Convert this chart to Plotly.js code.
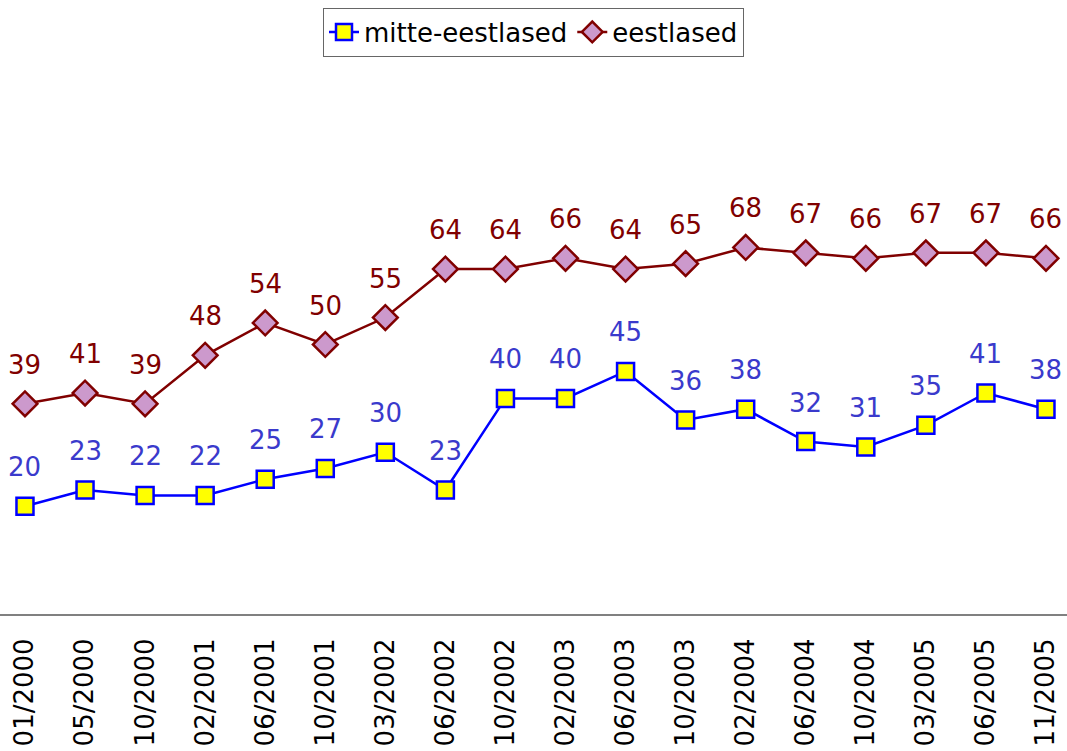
<!DOCTYPE html>
<html>
<head>
<meta charset="utf-8">
<script src="https://cdn.plot.ly/plotly-3.0.1.min.js"></script>
<style>html,body{margin:0;padding:0;background:#fff;}#chart{width:1067px;height:751px;}</style>
</head>
<body>
<div id="chart"></div>
<script>
var categories = ["01/2000","05/2000","10/2000","02/2001","06/2001","10/2001","03/2002","06/2002","10/2002","02/2003","06/2003","10/2003","02/2004","06/2004","10/2004","03/2005","06/2005","11/2005"];
var mitteEestlased = [20,23,22,22,25,27,30,23,40,40,45,36,38,32,31,35,41,38];
var eestlased = [39,41,39,48,54,50,55,64,64,66,64,65,68,67,66,67,67,66];
var seriesNames = ["mitte-eestlased","eestlased"];

var FONT = "DejaVu Sans, Verdana, sans-serif";
var xs = categories.map(function(c,i){return i;});

var traces = [
  {
    x: xs, y: mitteEestlased, name: seriesNames[0], type: "scatter", mode: "lines+markers",
    line: {color: "#0000ff", width: 2.5},
    marker: {symbol: "square", size: 17, color: "#ffff00", line: {color: "#0000ff", width: 2.5}}
  },
  {
    x: xs, y: eestlased, name: seriesNames[1], type: "scatter", mode: "lines+markers",
    line: {color: "#800000", width: 2.5},
    marker: {symbol: "diamond", size: 19, color: "#cc99cc", line: {color: "#800000", width: 2.5}}
  }
];

var annotations = [];
mitteEestlased.forEach(function(v,i){
  annotations.push({x: xs[i], y: v, text: String(v), showarrow: false, yshift: 39, yanchor: "middle",
    font: {family: FONT, size: 26, color: "#3a3acc"}});
});
eestlased.forEach(function(v,i){
  annotations.push({x: xs[i], y: v, text: String(v), showarrow: false, yshift: 39, yanchor: "middle",
    font: {family: FONT, size: 26, color: "#800000"}});
});

var layout = {
  width: 1067, height: 751,
  margin: {l: 0, r: 0, t: 75, b: 137, pad: 0},
  paper_bgcolor: "#ffffff", plot_bgcolor: "#ffffff",
  font: {family: FONT, size: 26, color: "#000"},
  showlegend: true,
  legend: {orientation: "h", x: 0.5, xanchor: "center", yref: "container", y: 0.99, yanchor: "top",
    bordercolor: "#666666", borderwidth: 1, font: {family: FONT, size: 26, color: "#000"}, bgcolor: "#fff",
    itemwidth: 30, tracegroupgap: 0},
  xaxis: {
    range: [-0.416, 17.35], tickmode: "array", tickvals: xs, ticktext: categories, tickangle: -90,
    showline: true, linecolor: "#808080", linewidth: 2, showgrid: false, zeroline: false,
    ticks: "", ticklabelstandoff: 12, tickfont: {family: FONT, size: 26, color: "#000"}, fixedrange: true
  },
  yaxis: {range: [0, 100], visible: false, showgrid: false, zeroline: false, fixedrange: true},
  annotations: annotations
};

Plotly.newPlot("chart", traces, layout, {displayModeBar: false, staticPlot: true});
</script>
</body>
</html>
